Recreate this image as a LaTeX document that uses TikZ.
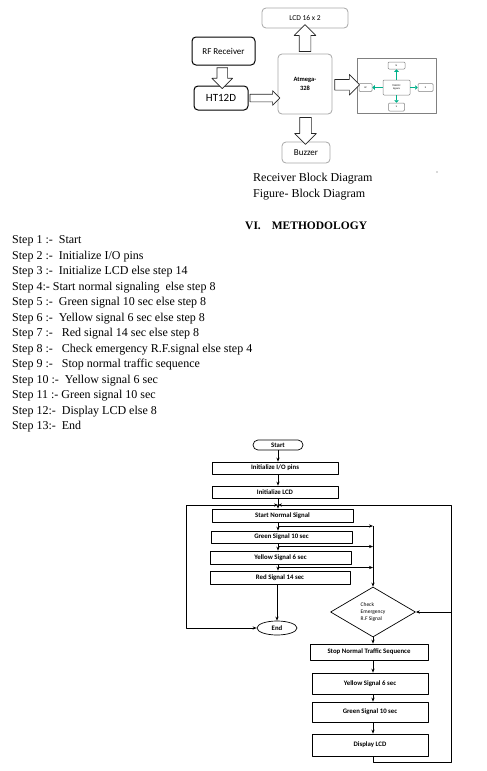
\documentclass[tikz,border=0pt]{standalone}
\usepackage{fontspec}
\setmainfont{Liberation Serif}
\newfontfamily\calib{Carlito}
\usetikzlibrary{shapes.geometric,shapes.arrows,arrows.meta,calc}
\definecolor{tgreen}{RGB}{0,176,138}
\tikzset{
	blk/.style={draw=gray!70, rounded corners=4pt, line width=0.8pt, inner sep=0pt, align=center, font=\calib\fontsize{8}{9}\selectfont},
	blkb/.style={blk, draw=black, line width=1pt},
	fat/.style={single arrow, draw=black!85, fill=white, line width=0.7pt, inner xsep=0pt, inner ysep=5pt, single arrow head extend=5pt, single arrow tip angle=90},
	tbox/.style={draw=gray, rounded corners=1pt, line width=0.5pt, inner sep=0pt, align=center, font=\calib\fontsize{2.5}{3}\selectfont},
	tarr/.style={-{Triangle[length=2.5pt,width=4.5pt]}, line width=1.6pt, color=tgreen},
	fbox/.style={draw, line width=0.7pt, inner sep=0pt, font=\calib\bfseries\fontsize{6.8}{8}\selectfont},
	fl/.style={-{Stealth[length=4pt,width=3.2pt]}, line width=0.8pt}
}
\begin{document}
\begin{tikzpicture}[x=1pt, y=-1pt, line join=round, font=\fontsize{12}{14}\selectfont]
	\def\sy{241} \def\dy{15.5} % steps
	\useasboundingbox (0,0) rectangle (487,771);
	
	% receiver block diagram
	\node[blk, minimum width=86, minimum height=20, font=\calib\fontsize{7.5}{9}\selectfont] (lcd) at (305,18) {LCD 16 x 2};
	\node[blkb, minimum width=63, minimum height=28, font=\calib\fontsize{9}{10}\selectfont] (rf) at (223.5,51) {RF Receiver};
	\node[blkb, minimum width=54, minimum height=24, font=\calib\fontsize{11}{12}\selectfont] (ht) at (221,98) {HT12D};
	\node[blk, minimum width=54, minimum height=60, font=\calib\bfseries\fontsize{6.5}{9}\selectfont] (atm) at (305,84) {Atmega-\\328};
	\node[blk, minimum width=48, minimum height=21, font=\calib\fontsize{9}{10}\selectfont] (buz) at (306,152.5) {Buzzer};
	\node[draw=gray, line width=0.7pt, minimum width=79, minimum height=55, inner sep=0pt] (traf) at (396.5,85.5) {};
	
	\node[fat, minimum height=21, rotate=-90] (a1) at ($(rf.south)!0.5!(ht.north)$) {};
	\node[fat, minimum height=30, inner ysep=3.5pt, single arrow head extend=3.5pt] (a2) at ($(ht.east)!0.5!(ht.east -| atm.west)$) {};
	\node[fat, minimum height=27, inner ysep=5.5pt, rotate=90] (a3) at ($(atm.north)!0.5!(lcd.south)$) {};
	\node[fat, minimum height=27, inner ysep=5.5pt, rotate=-90] (a4) at ($(atm.south)!0.5!(buz.north)$) {};
	\node[fat, minimum height=25] (a5) at ($(atm.east)!0.5!(traf.west)$) {};
	
	% traffic signals
	\node[tbox, minimum width=27, minimum height=15] (tsig) at (396.5,87.5) {TRAFFIC\\Signals};
	\node[tbox, minimum width=17, minimum height=7] (tn) at (396.5,65.5) {N};
	\node[tbox, minimum width=16, minimum height=8] (ts) at (396.5,107) {S};
	\node[tbox, minimum width=13, minimum height=8] (tw) at (365.5,87.5) {W};
	\node[tbox, minimum width=15, minimum height=8] (te) at (425.5,87.5) {E};
	\draw[tarr] (tsig) -- (tn); \draw[tarr] (tsig) -- (ts);
	\draw[tarr] (tsig) -- (tw); \draw[tarr] (tsig) -- (te);
	
	\node[anchor=west, inner sep=0pt] (cap1) at (253,179) {Receiver Block Diagram};
	\node[anchor=west, inner sep=0pt] (cap2) at (253,195) {Figure- Block Diagram};
	\fill[gray!60] (437,172) circle (0.8);
	\node[anchor=west, inner sep=0pt, font=\bfseries\fontsize{11.5}{14}\selectfont] (sec) at (245,226) {VI.\hspace{11pt}METHODOLOGY};
	
	% methodology steps
	\foreach \s [count=\i] in {Step 1 :-~~Start, Step 2 :-~~Initialize I/O pins, Step 3 :-~~Initialize LCD else step 14,
		Step 4:- Start normal signaling~~else step 8, Step 5 :-~~Green signal 10 sec else step 8,
		Step 6 :-~~Yellow signal 6 sec else step 8, Step 7 :-~~~Red signal 14 sec else step 8,
		Step 8 :-~~~Check emergency R.F.signal else step 4, Step 9 :-~~~Stop normal traffic sequence,
		Step 10 :-~~Yellow signal 6 sec, Step 11 :- Green signal 10 sec, Step 12:-~~Display LCD else 8, Step 13:-~~End}
		\node[anchor=west, inner sep=0pt] (st\i) at (12,{\sy+(\i-1)*\dy}) {\s};
	
	% flowchart
	\node[fbox, rounded corners=5pt, minimum width=50, minimum height=10] (start) at (278,445) {Start};
	\node[fbox, minimum width=126, minimum height=12] (initio) at (275,468) {Initialize I/O pins};
	\node[fbox, minimum width=126, minimum height=12] (initlcd) at (275,492) {Initialize LCD};
	\node[fbox, minimum width=141, minimum height=13] (snorm) at (282.5,515.5) {Start Normal Signal};
	\node[fbox, minimum width=141, minimum height=12] (green) at (281.5,537) {Green Signal 10 sec};
	\node[fbox, minimum width=141, minimum height=13] (yellow) at (280.5,557.5) {Yellow Signal 6 sec};
	\node[fbox, minimum width=140, minimum height=13] (red) at (280,577.5) {Red Signal 14 sec};
	\node[fbox, ellipse, minimum width=40, minimum height=14] (end) at (277,628) {End};
	\node[fbox, diamond, minimum width=85, minimum height=50, align=left, font=\calib\fontsize{5.5}{7}\selectfont] (dia) at (373,612) {Check\\Emergency\\R.F Signal};
	\node[fbox, minimum width=118, minimum height=16] (stopn) at (369,652) {Stop Normal Traffic Sequence};
	\node[fbox, minimum width=116, minimum height=21] (yel2) at (370,683.5) {Yellow Signal 6 sec};
	\node[fbox, minimum width=116, minimum height=20] (grn2) at (370,712) {Green Signal 10 sec};
	\node[fbox, minimum width=116, minimum height=22] (disp) at (370,745) {Display LCD};
	
	\coordinate (jn) at (278,505); \coordinate (lft) at (186,505);
	\coordinate (rgt) at (451,505); \coordinate (bot) at (451,762);
	\coordinate (b1) at (278,526); \coordinate (b2) at (278,546.5); \coordinate (b3) at (278,567.5);
	
	\draw[fl] (start) -- (initio.north -| start);
	\draw[fl] (initio.south -| start) -- (initlcd.north -| start);
	\draw[fl] (initlcd.south -| start) -- (snorm.north -| start);
	\draw[fl] (snorm.south -| start) -- (green.north -| start);
	\draw[fl] (green.south -| start) -- (yellow.north -| start);
	\draw[fl] (yellow.south -| start) -- (red.north -| start);
	\draw[fl] (red.south -| end) -- (end);
	\draw[fl] (b1) -- (b1 -| dia.north); \draw[fl] (b2) -- (b2 -| dia.north); \draw[fl] (b3) -- (b3 -| dia.north);
	\draw[fl] (b1 -| dia.north) -- (dia.north);
	\draw[fl] (dia.south) -- (stopn.north -| dia);
	\draw[fl] (stopn.south -| dia) -- (yel2.north -| dia);
	\draw[fl] (yel2.south -| dia) -- (grn2.north -| dia);
	\draw[fl] (grn2.south -| dia) -- (disp.north -| dia);
	\draw[fl] (disp.south -| dia) |- (bot) -- (rgt) -- (jn);
	\draw[fl] (dia.east -| bot) -- (dia.east);
	\draw[fl] (lft) -- (jn);
	\draw[fl] (lft) |- (end);
\end{tikzpicture}
\end{document}
